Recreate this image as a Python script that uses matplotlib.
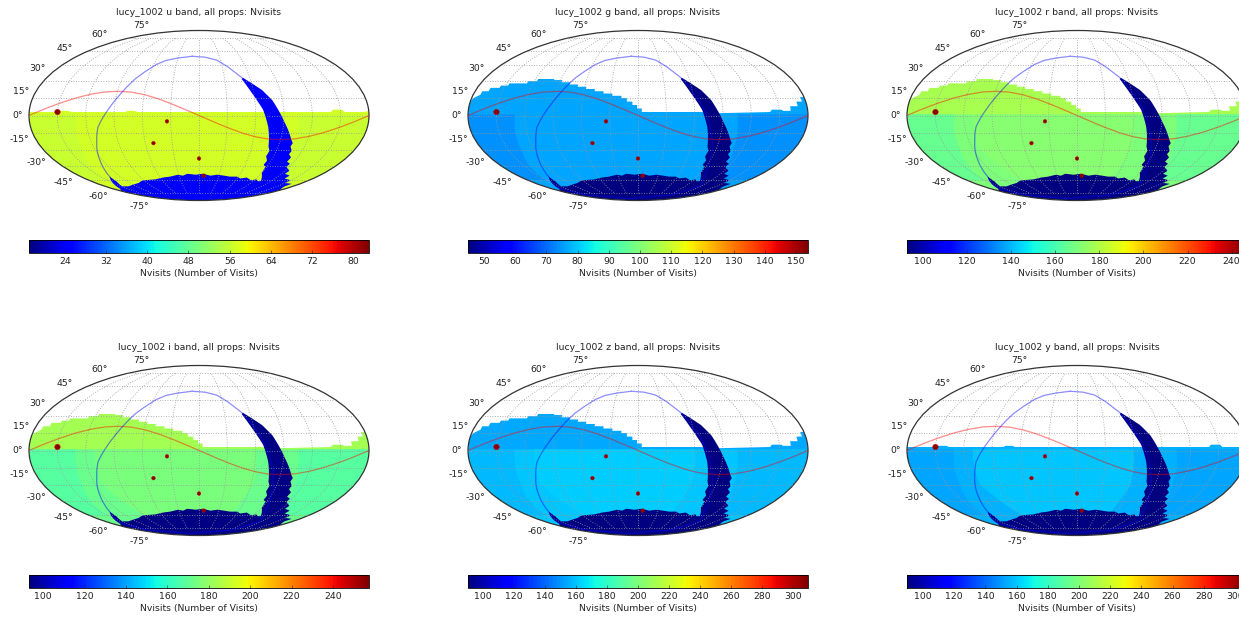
import numpy as np
import matplotlib
matplotlib.use("Agg")
import matplotlib.pyplot as plt
from matplotlib import cm
from matplotlib.colors import Normalize

W = 1239
H = 617

bands = ["u", "g", "r", "i", "z", "y"]
vmin = [17.0, 44.9, 92.7, 93.2, 90.3, 89.7]
vmax = [83.1, 153.8, 247.0, 257.4, 309.7, 307.7]
ticks = [
    list(range(24, 81, 8)),
    list(range(50, 151, 10)),
    list(range(100, 241, 20)),
    list(range(100, 241, 20)),
    list(range(100, 301, 20)),
    list(range(100, 301, 20)),
]

# visit counts per region
north_val = [57, 76, 178, 183, 154, 155]
south_val = [57, 76, 170, 172, 160, 155]
side_val = [56, 74, 166, 168, 158, 152]
centre_val = [57, 76, 172, 175, 162, 159]
low_val = [24, 45, 93, 94, 91, 90]

# footprint edges, (lon, lat) in degrees
north_wide = [(-180, 12), (-178, 15), (-172, 18), (-172, 21), (-165, 21), (-165, 24), (-155, 24),
              (-155, 26), (-147, 26), (-147, 28), (-127, 28), (-127, 30), (-117, 30), (-117, 32),
              (-98, 32), (-98, 31), (-88, 31), (-88, 29), (-78, 29), (-78, 27), (-68, 27),
              (-68, 25), (-58, 25), (-58, 23), (-48, 23), (-48, 21), (-38, 21), (-38, 19),
              (-28, 19), (-28, 17), (-18, 17), (-18, 15), (-12, 15), (-12, 12), (-6, 12), (-6, 9),
              (-1, 9), (-1, 6), (4, 6), (4, 3), (11, 3), (66, 3), (87, 2), (140, 3), (142, 5),
              (152, 5), (154, 4), (162, 4), (162, 8), (170, 8), (170, 12), (176, 12), (176, 16),
              (180, 16)]
north_flat = [(-180, 3), (-150, 3), (-148, 4), (-138, 4), (-136, 3), (-78, 3), (-76, 4),
              (-68, 4), (-66, 3), (140, 3), (142, 5), (152, 5), (154, 3), (175, 3), (180, 4)]
north_split = [(-180, 1), (180, 1)]

low_edge = [(50, 32), (59, 18), (68, 5), (74, -10), (79, -27), (82, -31), (81, -36), (85, -40),
            (84, -44), (88, -46), (90, -52), (103, -61), (98, -61), (92, -59), (85, -60), (74, -57),
            (65, -58), (58, -56), (47, -56), (38, -55), (27, -54), (17, -55), (6, -53), (-5, -54),
            (-17, -53), (-24, -55), (-31, -54), (-44, -56), (-56, -57), (-70, -59), (-92, -60),
            (-105, -63), (-120, -65), (-135, -67), (-147, -67), (-138, -61), (-136, -56),
            (-152, -64), (-164, -70), (-180, -73), (-180, -90), (180, -90), (180, -72),
            (168, -69), (164, -67), (165, -64), (150, -63), (150, -60), (135, -58), (136, -55),
            (125, -53), (126, -50), (116, -46), (117, -43), (111, -41), (112, -37), (107, -34),
            (108, -31), (104, -27), (105, -24), (102, -21), (91, -6), (84, 5), (79, 13), (70, 22),
            (59, 29), (52, 33)]

centre_patch = [(-110, 1), (60, 1), (62, -30), (50, -60), (-90, -60), (-112, -30)]
side_west = [(-180, 1), (-130, 1), (-135, -30), (-150, -60), (-180, -60)]
side_east = [(105, 1), (180, 1), (180, -60), (125, -60), (110, -30)]

ecl_lon = list(range(-180, 181, 15))
ecl_lat = [0, 5.3, 10.3, 14.7, 18.1, 20.3, 21, 20.3, 18.1, 14.7, 10.3, 5.3, 0,
           -5.3, -10.3, -14.7, -18.1, -20.3, -21, -20.3, -18.1, -14.7, -10.3, -5.3, 0]

gal_line = [(-10, 54), (-28, 52.5), (-45, 50), (-56, 46), (-65, 40), (-74, 33), (-81, 25), (-88, 16),
            (-95, 7), (-102, -2), (-108, -10), (-113, -21), (-118, -30), (-123, -39), (-129, -48),
            (-136, -56), (-147, -63), (-160, -69), (-154, -79), (-44, -85), (97, -79), (116, -67),
            (103, -58), (95, -49), (90, -40), (86, -30), (82, -21), (78, -12), (74, -3), (70, 5),
            (66, 12), (62, 18), (57, 25), (51, 33), (38, 43), (25, 50), (10, 53), (-10, 54)]

dd_lon = [-150, -34, -51, 0, 7]
dd_lat = [3, -5, -24, -38, -55]
dd_size = [16, 7, 7, 7, 7]

lat_text = ["75°", "60°", "45°", "30°", "15°", "0°", "-15°", "-30°", "-45°", "-60°", "-75°"]
lat_right = [149, 108, 73, 46, 29, 23, 29, 46, 73, 108, 149]
lat_mid = [25, 34, 48, 68, 91, 115, 139, 162, 182, 196, 206]

col_left = [29, 468, 907]
row_top = [30, 365]
FS = 6.7
INK = "#222222"


def rad(pts):
    return np.radians([p[0] for p in pts]), np.radians([p[1] for p in pts])


def fill_region(ax, pts, color, z):
    x, y = rad(pts)
    ax.fill(x, y, color=color, lw=0, zorder=z)


def footprint(edge):
    return edge + [(180, -90), (-180, -90)]


fig = plt.figure(figsize=(W / 100, H / 100), dpi=100)

for i, band in enumerate(bands):
    left = col_left[i % 3]
    top = row_top[i // 3]
    ax = fig.add_axes([left / W, 1 - (top + 171) / H, 340 / W, 171 / H], projection="mollweide")
    norm = Normalize(vmin[i], vmax[i])
    cmap = matplotlib.colormaps["jet"]

    edge = north_flat if band in ("u", "y") else north_wide
    fill_region(ax, footprint(edge), cmap(norm(north_val[i])), 1)
    if band not in ("u", "y", "g"):
        fill_region(ax, footprint(north_split), cmap(norm(south_val[i])), 1.1)
    fill_region(ax, side_west, cmap(norm(side_val[i])), 1.2)
    fill_region(ax, side_east, cmap(norm(side_val[i])), 1.2)
    fill_region(ax, centre_patch, cmap(norm(centre_val[i])), 1.2)
    fill_region(ax, low_edge, cmap(norm(low_val[i])), 1.5)

    ax.plot(np.radians(ecl_lon), np.radians(ecl_lat), color="r", lw=0.9, alpha=0.45, zorder=3)
    gx, gy = rad(gal_line)
    ax.plot(gx, gy, color="b", lw=0.9, alpha=0.45, zorder=3)
    ax.scatter(np.radians(dd_lon), np.radians(dd_lat), s=dd_size, color="#8b0000",
               edgecolors="#cc0000", linewidths=0.3, zorder=4)

    ax.set_longitude_grid(30)
    ax.set_latitude_grid(15)
    ax.set_longitude_grid_ends(75)
    ax.grid(True, color="#999999", linestyle=(0, (1, 2)), lw=0.6, zorder=2)
    ax.set_axisbelow(False)
    ax.set_xticklabels([])
    ax.set_yticklabels([])
    for t, rx, my in zip(lat_text, lat_right, lat_mid):
        ax.annotate(t, xy=(0, 1), xycoords="axes fraction", xytext=(rx - 29, 30 - my),
                    textcoords="offset pixels", ha="right", va="center", fontsize=FS, color=INK,
                    annotation_clip=False)
    for s in ax.spines.values():
        s.set_linewidth(0.9)
        s.set_edgecolor("#333333")
    ax.set_title("lucy_1002 %s band, all props: Nvisits" % band, fontsize=FS, pad=11, color=INK)

    cax = fig.add_axes([left / W, 1 - (top + 223) / H, 340 / W, 13 / H])
    cb = fig.colorbar(cm.ScalarMappable(norm=norm, cmap=cmap), cax=cax,
                      orientation="horizontal", ticks=ticks[i])
    cb.ax.tick_params(labelsize=FS, length=2, width=0.4, direction="in", pad=3, colors=INK)
    cb.outline.set_linewidth(0.6)
    cb.set_label("Nvisits (Number of Visits)", fontsize=FS, labelpad=2, color=INK)

fig.savefig("out.png", dpi=100)
